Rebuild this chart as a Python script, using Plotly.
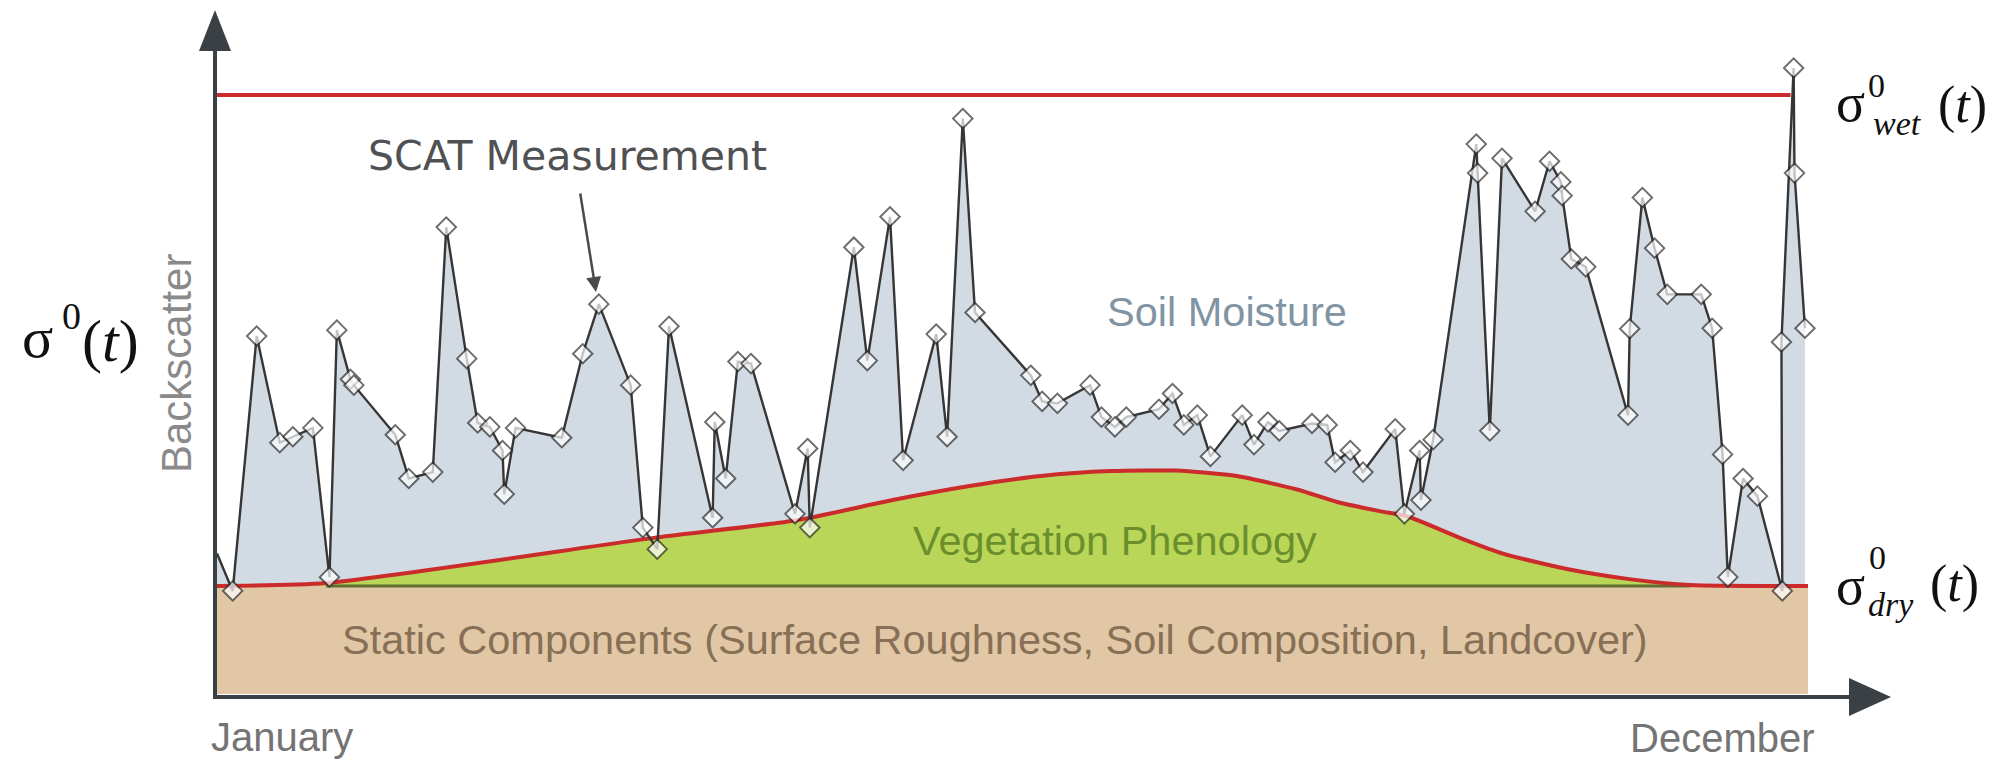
import plotly.graph_objects as go

W, H = 2006, 763

# SCAT backscatter series over one year: day of year, relative level (dry = 0, wet = 100)
scat_day = [0.0, 3.6, 9.1, 14.4, 17.4, 22.0, 25.8, 27.5, 30.6, 31.4, 40.9, 44.0, 49.5, 52.6,
            57.3, 59.8, 62.6, 65.5, 65.9, 68.5, 79.1, 83.9, 87.6, 94.9, 97.7, 101.0, 103.7,
            113.7, 114.2, 116.7, 119.5, 122.5, 132.6, 135.5, 136.0, 146.1, 149.2, 154.4,
            157.4, 165.0, 167.5, 171.1, 173.9, 186.7, 189.3, 192.8, 200.3, 202.9, 206.0,
            208.6, 216.1, 219.2, 221.8, 224.9, 227.9, 235.2, 237.9, 241.1, 243.7, 251.2,
            254.7, 256.5, 260.0, 262.9, 270.3, 272.4, 275.9, 276.2, 279.0, 288.9, 289.2,
            292.0, 294.8, 302.4, 305.7, 308.3, 308.6, 310.7, 314.0, 323.7, 324.1, 327.0,
            329.8, 332.7, 340.5, 343.0, 345.4, 346.6, 350.1, 353.4, 359.1, 358.9, 361.7,
            361.9, 364.3]
scat_val = [6.6, -1.0, 50.9, 29.2, 30.4, 32.2, 1.8, 52.1, 42.1, 40.9, 30.8, 21.9, 23.2, 73.1,
            46.3, 33.2, 32.4, 27.6, 18.7, 32.2, 30.2, 47.3, 57.4, 40.9, 11.9, 7.5, 52.9,
            13.9, 33.4, 21.9, 45.7, 45.3, 14.7, 28.0, 11.9, 69.0, 45.9, 75.2,
            25.6, 51.3, 30.4, 95.2, 55.7, 42.9, 37.6, 37.2, 40.9, 34.4, 32.4,
            34.4, 36.0, 39.2, 32.8, 34.8, 26.4, 34.8, 28.8, 33.4, 31.6, 33.1,
            32.8, 25.2, 27.6, 23.2, 32.0, 14.7, 27.6, 17.5, 29.8, 90.0, 84.1,
            31.6, 87.1, 76.3, 86.5, 82.3, 79.5, 66.6, 65.0, 34.8, 52.4, 79.1,
            68.8, 59.4, 59.4, 52.5, 26.8, 1.8, 21.9, 18.3, -1.0, 49.7, 105.5,
            84.1, 52.5]

# Vegetation phenology: seasonal rise of the dry reference above the static floor
veg_day = [0, 25, 101, 133, 155, 173, 189, 205, 220, 234, 248, 257, 267, 273, 286, 295,
           310, 324, 338, 365]
veg_val = [0, 0.6, 9.9, 13.4, 17.5, 20.4, 22.4, 23.4, 23.5, 22.4, 19.6, 17.1, 15.2, 14.2,
           9.5, 6.6, 3.4, 1.4, 0.2, 0]

wet_level = 100
wet_end_day = 361
static_floor = -22
year_end = 365

# axis extents so that the panel fills the page
x_range = [-49.78, 410.42]
y_range = [-36.05, 119.35]


def fx(p):
    return p / W


def fy(p):
    return 1 - p / H


fig = go.Figure()

# soil moisture area under the measurements
fig.add_trace(go.Scatter(x=scat_day, y=scat_val, mode="lines", fill="tozeroy",
                         fillcolor="#d2dbe3", line=dict(width=0, color="#d2dbe3"),
                         hoverinfo="skip"))
# vegetation area
fig.add_trace(go.Scatter(x=veg_day, y=veg_val, mode="lines", fill="tozeroy",
                         fillcolor="#bad659",
                         line=dict(width=0, color="#bad659", shape="spline", smoothing=0.6),
                         hoverinfo="skip"))
# ground line under the vegetation
fig.add_trace(go.Scatter(x=[veg_day[1], veg_day[-2]], y=[0, 0], mode="lines",
                         line=dict(color="#5f6e32", width=3), hoverinfo="skip"))
# dry reference
fig.add_trace(go.Scatter(x=veg_day, y=veg_val, mode="lines",
                         line=dict(color="#cc2b2b", width=4, shape="spline", smoothing=0.6),
                         hoverinfo="skip"))
# wet reference
fig.add_trace(go.Scatter(x=[0, wet_end_day], y=[wet_level, wet_level], mode="lines",
                         line=dict(color="#cc2b2b", width=4), hoverinfo="skip"))
# measurements (the series enters at the axis without a marker)
marker_sizes = [0] + [15] * (len(scat_day) - 1)
fig.add_trace(go.Scatter(x=scat_day, y=scat_val, mode="lines+markers",
                         line=dict(color="#363636", width=2.4),
                         marker=dict(symbol="diamond", size=marker_sizes, color="white",
                                     line=dict(color="#2f2f2f", width=1.9)),
                         hoverinfo="skip"))

axis_col = "#3b4045"
shapes = [
    # static components block
    dict(type="rect", xref="x", yref="y", x0=0, x1=year_end, y0=static_floor, y1=0,
         fillcolor="#e2c7a7", line=dict(width=0), layer="below"),
    # vertical axis with arrow
    dict(type="line", xref="paper", yref="paper", x0=fx(215), x1=fx(215), y0=fy(699), y1=fy(45),
         line=dict(color=axis_col, width=4)),
    dict(type="path", xref="paper", yref="paper",
         path=f"M {fx(215)},{fy(10)} L {fx(199)},{fy(51)} L {fx(231)},{fy(51)} Z",
         fillcolor=axis_col, line=dict(width=0)),
    # horizontal axis with arrow
    dict(type="line", xref="paper", yref="paper", x0=fx(213), x1=fx(1855), y0=fy(697), y1=fy(697),
         line=dict(color=axis_col, width=4)),
    dict(type="path", xref="paper", yref="paper",
         path=f"M {fx(1891)},{fy(697)} L {fx(1849)},{fy(678)} L {fx(1849)},{fy(716)} Z",
         fillcolor=axis_col, line=dict(width=0)),
]

sans = "Liberation Sans, Arial, sans-serif"
serif = "Liberation Serif, Times New Roman, serif"


def label(text, x, y, size, color, family=sans, angle=0):
    return dict(text=text, x=fx(x), y=fy(y), xref="paper", yref="paper",
                xanchor="center", yanchor="middle", showarrow=False, textangle=angle,
                borderpad=0, font=dict(family=family, size=size, color=color))


annotations = [
    label("SCAT Measurement", 567, 156, 41, "#505153", family="DejaVu Sans, Verdana, sans-serif"),
    label("Soil Moisture", 1227, 311, 41.5, "#8094a3"),
    label("Vegetation Phenology", 1115, 540, 41.5, "#6a8f2c"),
    label("Static Components (Surface Roughness, Soil Composition, Landcover)", 995, 639, 41.5, "#877055"),
    label("Backscatter", 176, 364, 42, "#8a8a8a", angle=-90),
    label("January", 282, 737, 40, "#747474"),
    label("December", 1722, 738, 40, "#747474"),
    # sigma^0(t)
    label("σ", 37, 337, 58, "#111111", family=serif),
    label("0", 71, 316, 38, "#111111", family=serif),
    label("(<i>t</i>)", 110, 341, 60, "#111111", family=serif),
    # sigma^0_wet(t)
    label("σ", 1850, 103, 54, "#111111", family=serif),
    label("0", 1876, 85, 34, "#111111", family=serif),
    label("<i>wet</i>", 1897, 124, 34, "#111111", family=serif),
    label("(<i>t</i>)", 1962, 105, 52, "#111111", family=serif),
    # sigma^0_dry(t)
    label("σ", 1850, 586, 54, "#111111", family=serif),
    label("0", 1877, 557, 34, "#111111", family=serif),
    label("<i>dry</i>", 1891, 604, 34, "#111111", family=serif),
    label("(<i>t</i>)", 1954, 584, 52, "#111111", family=serif),
    # pointer to one measurement
    dict(text="", x=fx(596), y=fy(292), xref="paper", yref="paper", showarrow=True,
         ax=-16, ay=-100, arrowhead=2, arrowsize=1.2, arrowwidth=2.5, arrowcolor="#4a4a4a"),
]

fig.update_layout(
    width=W, height=H, margin=dict(l=0, r=0, t=0, b=0),
    paper_bgcolor="white", plot_bgcolor="white", showlegend=False,
    xaxis=dict(range=x_range, visible=False, fixedrange=True),
    yaxis=dict(range=y_range, visible=False, fixedrange=True),
    shapes=shapes, annotations=annotations,
)

fig.write_html("out.html", config={"displayModeBar": False})
